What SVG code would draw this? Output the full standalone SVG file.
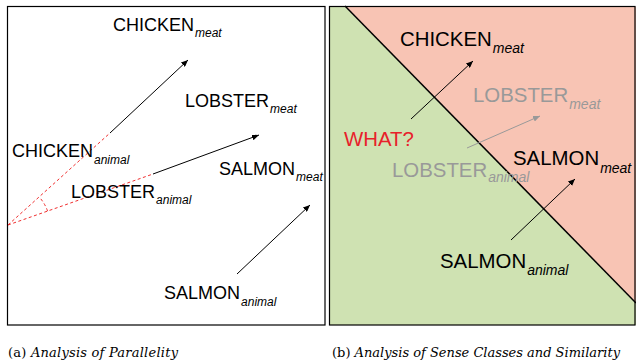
<svg xmlns="http://www.w3.org/2000/svg" width="636" height="364" viewBox="0 0 636 364">
<style>
.lbl{font-family:"Liberation Sans",Arial,sans-serif;fill:#000}
.sm{font-size:18px}
.lg{font-size:20.4px}
.sub{font-style:italic}
.gray{fill:#999}
.red{fill:#e8202a}
.arr{stroke:#000;stroke-width:1;fill:none;marker-end:url(#ah)}
.arrg{stroke:#999;stroke-width:1;fill:none;marker-end:url(#ahg)}
.dash{stroke:#f03030;stroke-width:1;stroke-dasharray:3,2.5;fill:none}
.cap{font-family:"DejaVu Serif","Liberation Serif",serif;font-size:13px;fill:#000}
</style>
<defs>
<marker id="ah" markerUnits="userSpaceOnUse" markerWidth="8" markerHeight="6" refX="7" refY="3" orient="auto"><path d="M0,0 L7,3 L0,6 z" fill="#000"/></marker>
<marker id="ahg" markerUnits="userSpaceOnUse" markerWidth="8" markerHeight="6" refX="7" refY="3" orient="auto"><path d="M0,0 L7,3 L0,6 z" fill="#999"/></marker>
</defs>
<rect width="636" height="364" fill="#fff"/>

<!-- Panel a -->
<g id="panel-a">
<rect x="7.5" y="6.5" width="317.5" height="318.5" fill="#fff" stroke="#000" stroke-width="1.2"/>
</g>
<g id="connectors-a">
<line class="dash" x1="8" y1="225" x2="110" y2="133"/>
<line class="dash" x1="8" y1="225" x2="153" y2="174"/>
<path class="dash" d="M47.6,211.1 A42,42 0 0 0 39.3,197.1" stroke-dasharray="none"/>
<line class="arr" x1="110" y1="133" x2="188" y2="60"/>
<line class="arr" x1="153" y1="174" x2="259" y2="135"/>
<line class="arr" x1="237" y1="274" x2="310" y2="205"/>
</g>
<g id="a-chicken-meat"><text class="lbl sm" x="113" y="31">CHICKEN<tspan class="sub" font-size="12" dx="1" dy="6">meat</tspan></text></g>
<g id="a-lobster-meat"><text class="lbl sm" x="185" y="107">LOBSTER<tspan class="sub" font-size="12" dx="1" dy="6">meat</tspan></text></g>
<g id="a-chicken-animal"><text class="lbl sm" x="12" y="157">CHICKEN<tspan class="sub" font-size="12" dx="1" dy="7">animal</tspan></text></g>
<g id="a-salmon-meat"><text class="lbl sm" x="219" y="175">SALMON<tspan class="sub" font-size="12" dx="1" dy="6">meat</tspan></text></g>
<g id="a-lobster-animal"><text class="lbl sm" x="71" y="198">LOBSTER<tspan class="sub" font-size="12" dx="1" dy="6">animal</tspan></text></g>
<g id="a-salmon-animal"><text class="lbl sm" x="164" y="299">SALMON<tspan class="sub" font-size="12" dx="1" dy="7">animal</tspan></text></g>

<!-- Panel b -->
<g id="panel-b">
<polygon points="329.5,6.5 345,6.5 636,303 636,325 329.5,325" fill="#cfe2b2"/>
<polygon points="345,6.5 636,6.5 636,303" fill="#f8c4b4"/>
<line x1="345" y1="6" x2="636" y2="303" stroke="#000" stroke-width="1.5"/>
<rect x="329.5" y="6.5" width="305.5" height="318.5" fill="none" stroke="#000" stroke-width="1.2"/>
</g>
<g id="connectors-b">
<line class="arr" x1="411" y1="119" x2="473" y2="61"/>
<line class="arrg" x1="467" y1="148" x2="540" y2="116"/>
<line class="arr" x1="511" y1="240" x2="575" y2="179"/>
</g>
<g id="b-chicken-meat"><text class="lbl lg" x="400" y="46">CHICKEN<tspan class="sub" font-size="14" dx="1" dy="7">meat</tspan></text></g>
<g id="b-lobster-meat"><text class="lbl lg gray" x="473" y="102">LOBSTER<tspan class="sub" font-size="14" dx="1" dy="7">meat</tspan></text></g>
<g id="b-what"><text class="lbl lg red" x="344" y="146">WHAT?</text></g>
<g id="b-salmon-meat"><text class="lbl lg" x="513" y="165">SALMON<tspan class="sub" font-size="14" dx="1" dy="8">meat</tspan></text></g>
<g id="b-lobster-animal"><text class="lbl lg gray" x="392" y="177">LOBSTER<tspan class="sub" font-size="14" dx="1" dy="5">animal</tspan></text></g>
<g id="b-salmon-animal"><text class="lbl lg" x="440" y="268">SALMON<tspan class="sub" font-size="14" dx="1" dy="7">animal</tspan></text></g>

<!-- Captions -->
<text class="cap" x="8" y="357" textLength="170" lengthAdjust="spacing">(a) <tspan font-style="italic">Analysis of Parallelity</tspan></text>
<text class="cap" x="332" y="357" textLength="288" lengthAdjust="spacing">(b) <tspan font-style="italic">Analysis of Sense Classes and Similarity</tspan></text>
</svg>
